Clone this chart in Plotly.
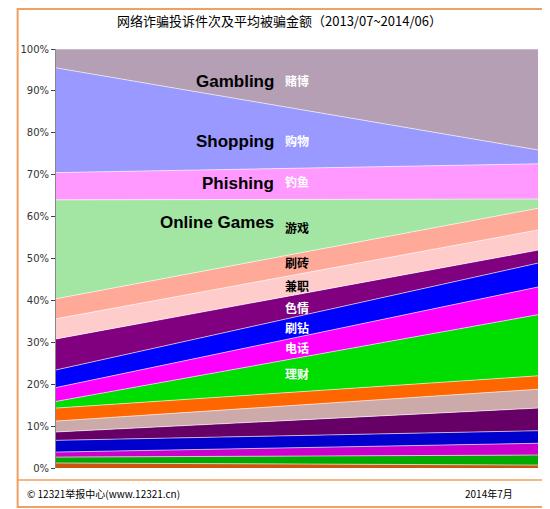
import plotly.graph_objects as go

# cumulative tops (%) of each layer, bottom to top, at start and end of the period
tops_start = [1.2, 2.6, 3.8, 6.6, 8.6, 11.2, 14.3, 15.9, 19.2, 23.4, 30.8, 35.6, 40.4, 64.0, 70.5, 95.5, 100]
tops_end = [0.7, 3.1, 5.9, 8.9, 14.3, 18.8, 22.0, 36.6, 43.2, 48.9, 52.0, 56.8, 62.0, 64.2, 72.6, 75.9, 100]
colors = ["#cc5511", "#00aa00", "#cc00cc", "#0000cc", "#660066", "#ccaaaa", "#ff6600", "#00dd00",
          "#ff00ff", "#0000ff", "#800080", "#ffcccc", "#ffaa99", "#a3e6a3", "#ff99ff", "#9999ff", "#b59fb5"]
ticks = list(range(0, 101, 10))
tick_text = [f"{t}%" for t in ticks]

labels = [("Gambling", "赌博", 82), ("Shopping", "购物", 142), ("Phishing", "钓鱼", 183)]
small_labels = [("刷砖", 263, "black"), ("兼职", 285, "black"), ("色情", 307, "white"),
                ("刷钻", 327, "white"), ("电话", 347, "white"), ("理财", 373, "white")]

# page has an 8px body margin, so work in page pixels and shift
OFF = 8
W, H = 550 - OFF, 509 - OFF
L, R, T, B = 48, 538, 49, 468

fig = go.Figure()
prev_s, prev_e = 0, 0
for s, e, c in zip(tops_start, tops_end, colors):
    fig.add_trace(go.Scatter(x=[0, 1], y=[s - prev_s, e - prev_e], stackgroup="a", mode="lines",
                             line=dict(width=0.6, color="white"), fillcolor=c, hoverinfo="skip"))
    prev_s, prev_e = s, e

def pap(x, y):
    return (x - L) / (R - L), (B - y) / (B - T)

def note(x, y, text, anchor, font):
    px, py = pap(x, y)
    fig.add_annotation(xref="paper", yref="paper", x=px, y=py, text=text, xanchor=anchor, yanchor="middle",
                       showarrow=False, font=font)

en_font = dict(family="Liberation Sans", size=17, color="black")
for en, zh, y in labels:
    note(272, y, "<b>" + en + "</b>", "right", en_font)
    note(279, y - 2, "<b>" + zh + "</b>", "left", dict(family="Noto Sans CJK SC", size=12, color="white"))
note(272, 222, "<b>Online Games</b>", "right", en_font)
note(279, 227, "<b>游戏</b>", "left", dict(family="Noto Sans CJK SC", size=12, color="black"))
for zh, y, c in small_labels:
    note(279, y, "<b>" + zh + "</b>", "left", dict(family="Noto Sans CJK SC", size=12, color=c))

note(275, 20, "网络诈骗投诉件次及平均被骗金额（2013/07~2014/06）", "center",
     dict(family="Noto Sans CJK SC", size=13, color="black"))
note(16, 493, "© 12321举报中心(www.12321.cn)", "left", dict(family="Noto Sans CJK SC", size=10, color="black"))
note(462, 493, "2014年7月", "left", dict(family="Noto Sans CJK SC", size=10, color="black"))

x0, y0 = pap(9, 507)
x1, y1 = pap(548, 9)
fig.add_shape(type="rect", xref="paper", yref="paper", x0=x0, x1=x1, y0=y0, y1=y1,
              line=dict(color="#f0a060", width=2))
_, yl = pap(0, 480)
fig.add_shape(type="line", xref="paper", yref="paper", x0=x0, x1=x1, y0=yl, y1=yl,
              line=dict(color="#f0a060", width=1.5))

fig.update_layout(width=W, height=H, margin=dict(l=L - OFF, r=550 - R, t=T - OFF, b=509 - B), showlegend=False,
                  plot_bgcolor="white", paper_bgcolor="white",
                  xaxis=dict(range=[0, 1], visible=False),
                  yaxis=dict(range=[0, 100], tickvals=ticks, ticktext=tick_text, showgrid=False,
                             ticks="outside", ticklen=4, showline=True, linecolor="#888", zeroline=False,
                             tickfont=dict(family="DejaVu Sans", size=10, color="#333")))
fig.write_html("out.html")
